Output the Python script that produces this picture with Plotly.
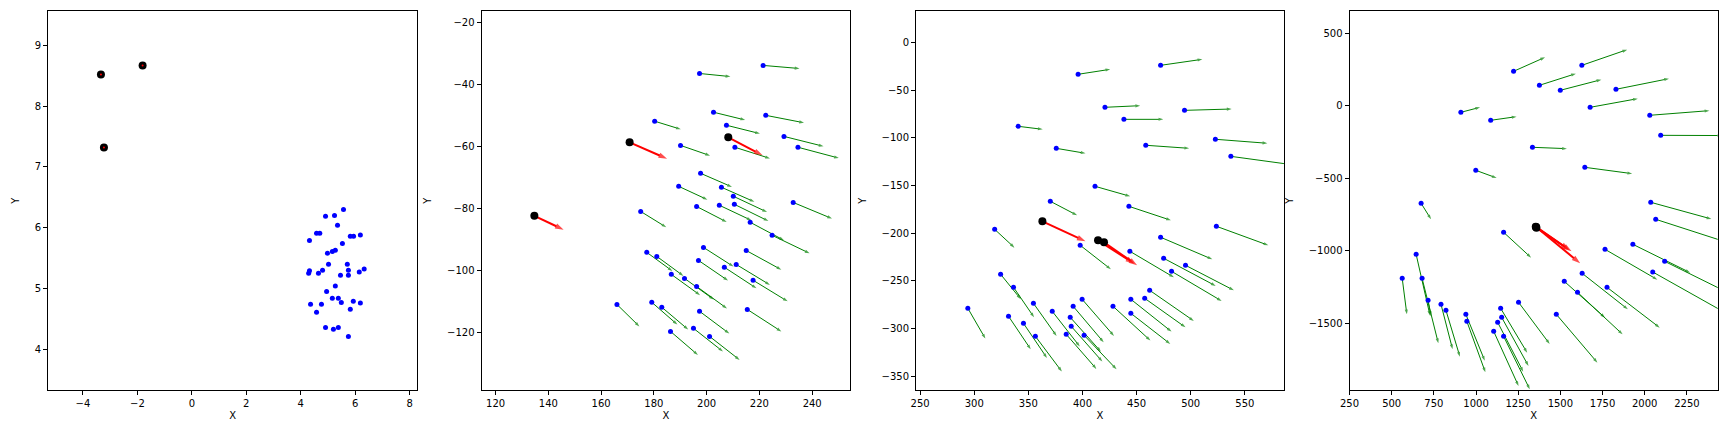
import plotly.graph_objects as go

# ---------- panel 1: initial points ----------
p1_blue_x = [5.57, 4.91, 5.24, 5.35, 4.58, 4.70, 4.32, 5.82, 5.94, 6.19,
             5.53, 4.98, 5.16, 5.27, 5.02, 5.71, 4.32, 4.29, 4.65, 4.80,
             5.46, 5.75, 5.75, 6.15, 6.33, 5.27, 4.95, 5.16, 5.38, 5.49,
             4.36, 4.76, 5.93, 6.19, 4.58, 5.82, 4.91, 5.20, 5.38, 5.75]
p1_blue_y = [6.30, 6.19, 6.20, 6.04, 5.91, 5.91, 5.79, 5.86, 5.86, 5.88,
             5.74, 5.58, 5.61, 5.63, 5.40, 5.40, 5.29, 5.25, 5.25, 5.30,
             5.22, 5.30, 5.22, 5.27, 5.32, 5.04, 4.95, 4.84, 4.84, 4.77,
             4.74, 4.74, 4.79, 4.76, 4.61, 4.66, 4.36, 4.33, 4.36, 4.21]
p1_black_x = [-3.34, -1.81, -3.23]
p1_black_y = [8.52, 8.67, 7.32]

# ---------- panel 2 ----------
p2_x0 = [197.3, 221.4, 202.6, 222.4, 180.3, 207.5, 229.3, 190.1, 210.7, 234.6,
         197.7, 189.4, 205.6, 210.1, 232.8, 175.0, 196.2, 204.8, 210.5, 216.5,
         224.8, 177.3, 181.1, 198.8, 215.0, 196.9, 206.7, 211.2, 186.6, 191.6,
         196.2, 217.6, 166.0, 179.2, 183.0, 197.3, 215.4, 186.3, 195.0, 201.1]
p2_y0 = [-36.5, -33.9, -49.0, -50.0, -51.9, -53.2, -56.8, -59.7, -60.3, -60.3,
         -68.7, -72.9, -73.2, -76.1, -78.1, -81.0, -79.4, -79.0, -78.7, -84.5,
         -88.7, -94.2, -95.5, -92.6, -93.6, -96.8, -99.0, -98.1, -101.3, -102.6,
         -105.2, -103.2, -111.0, -110.3, -111.9, -113.2, -112.6, -119.7, -118.7, -121.3]
p2_x1 = [209.0, 235.2, 214.6, 236.9, 190.2, 220.2, 244.3, 201.3, 224.0, 250.1,
         209.6, 200.3, 218.1, 222.9, 247.5, 184.7, 207.6, 217.0, 223.4, 229.3,
         239.0, 187.0, 191.2, 210.2, 228.3, 208.1, 218.9, 224.0, 197.5, 202.7,
         207.7, 230.7, 174.5, 188.9, 193.0, 208.6, 228.3, 196.7, 206.2, 212.5]
p2_y1 = [-37.5, -34.9, -51.5, -52.4, -54.5, -55.9, -60.0, -63.0, -63.9, -63.8,
         -73.1, -77.2, -77.9, -81.2, -83.3, -86.1, -84.4, -83.9, -84.1, -90.3,
         -94.5, -100.2, -101.8, -98.8, -99.8, -103.3, -105.8, -104.7, -108.0, -109.4,
         -112.3, -110.0, -118.1, -117.5, -119.1, -120.4, -119.7, -127.3, -126.2, -128.9]
p2_rx0 = [134.7, 170.8, 208.2]
p2_ry0 = [-82.4, -58.7, -57.1]
p2_rx1 = [145.8, 185.0, 221.2]
p2_ry1 = [-86.9, -64.0, -62.9]

# ---------- panel 3 ----------
p3_x0 = [396.0, 472.2, 420.8, 494.3, 438.3, 340.6, 522.8, 375.8, 458.5, 537.1,
         411.6, 370.3, 442.9, 318.9, 523.7, 472.2, 397.9, 443.8, 475.0, 495.2,
         482.3, 324.4, 336.3, 462.1, 444.7, 457.5, 294.1, 354.7, 372.1, 391.4,
         399.7, 428.2, 444.7, 331.7, 388.7, 389.6, 345.5, 356.5, 385.0, 401.5]
p3_y0 = [-33.5, -24.1, -68.1, -71.3, -80.7, -88.0, -101.6, -111.1, -107.9, -119.5,
         -150.9, -166.6, -171.9, -196.0, -192.8, -204.3, -212.7, -219.0, -226.3, -233.7,
         -240.0, -243.1, -256.7, -259.9, -269.3, -268.3, -278.7, -273.5, -281.9, -276.6,
         -269.3, -276.6, -284.0, -287.1, -288.2, -297.6, -294.5, -308.1, -306.0, -307.0]
p3_x1 = [425.7, 510.8, 453.3, 537.8, 474.7, 363.3, 570.8, 402.8, 498.6, 592.0,
         444.1, 395.1, 481.7, 337.2, 571.7, 520.0, 426.3, 484.5, 523.1, 539.9,
         528.6, 343.1, 355.3, 502.9, 482.3, 495.2, 310.3, 376.1, 397.6, 419.6,
         429.1, 462.8, 481.1, 352.2, 417.1, 418.4, 367.2, 381.0, 412.9, 431.5]
p3_y1 = [-28.3, -17.8, -66.4, -69.9, -80.7, -91.2, -105.8, -116.3, -111.1, -128.0,
         -161.4, -181.3, -186.5, -215.2, -212.7, -227.4, -237.9, -246.3, -255.3, -259.9,
         -271.1, -269.3, -288.2, -292.0, -303.2, -298.7, -310.5, -307.7, -318.9, -314.4,
         -307.7, -312.6, -316.1, -321.7, -324.2, -334.6, -330.8, -345.1, -342.3, -342.7]
p3_rx0 = [363.0, 414.4, 419.9]
p3_ry0 = [-187.6, -207.5, -209.6]
p3_rx1 = [402.8, 447.8, 450.5]
p3_ry1 = [-208.5, -231.9, -233.7]

# ---------- panel 4 ----------
p4_x0 = [1222.5, 1627.2, 1375.7, 1499.5, 1829.5, 910.1, 1086.9, 1676.3, 2029.9, 2094.8,
         1334.5, 998.5, 1644.9, 2035.8, 2065.3, 674.4, 1163.5, 1764.7, 1929.7, 2118.3,
         2047.6, 1629.1, 1523.1, 1601.6, 1776.5, 1475.9, 562.4, 644.9, 680.2, 715.6,
         792.2, 821.7, 939.6, 945.5, 1145.9, 1252.0, 1151.8, 1128.2, 1104.6, 1163.5]
p4_y0 = [237.9, 279.3, 141.4, 106.9, 113.8, -44.8, -100.0, -10.4, -65.5, -203.5,
         -286.2, -444.8, -424.2, -665.5, -782.8, -672.4, -872.4, -989.7, -955.2, -1072.5,
         -1146.0, -1155.2, -1210.4, -1286.2, -1251.8, -1438.0, -1189.7, -1024.2, -1189.7, -1341.4,
         -1369.0, -1410.4, -1438.0, -1486.3, -1396.6, -1355.2, -1458.7, -1493.1, -1555.2, -1589.7]
p4_x1 = [1409.1, 1896.3, 1591.8, 1743.1, 2143.9, 1024.1, 1240.2, 1959.2, 2383.6, 2460.0,
         1538.8, 1122.3, 1925.8, 2395.3, 2470.0, 733.3, 1326.6, 2075.1, 2269.6, 2485.7,
         2466.1, 1900.3, 1764.7, 1868.8, 2088.9, 1719.5, 589.9, 727.4, 776.5, 733.3,
         861.0, 904.2, 1051.6, 1055.5, 1303.0, 1436.7, 1310.9, 1279.6, 1252.0, 1318.7]
p4_y1 = [334.5, 387.4, 221.8, 180.5, 187.3, -10.4, -74.7, 49.4, -33.3, -205.0,
         -295.4, -497.7, -467.8, -780.5, -935.0, -782.8, -1047.2, -1198.9, -1150.6, -1284.0,
         -1419.6, -1403.5, -1461.0, -1575.9, -1529.9, -1771.3, -1438.0, -1447.2, -1638.0, -1451.8,
         -1679.4, -1730.0, -1757.5, -1838.1, -1702.4, -1642.6, -1794.4, -1833.5, -1932.2, -1955.2]
p4_rx0 = [1354.1, 1358.0, 1356.1]
p4_ry0 = [-833.4, -840.3, -835.7]
p4_rx1 = [1552.6, 1566.3, 1617.4]
p4_ry1 = [-994.3, -1003.5, -1086.2]

FONT = dict(family="DejaVu Sans", size=10, color="black")


def arrows(x0, y0, x1, y1, color, width, head, xa, ya):
    xs, ys, sizes = [], [], []
    for a, b, c, d in zip(x0, y0, x1, y1):
        xs += [a, c, None]
        ys += [b, d, None]
        sizes += [0, head, 0]
    return go.Scatter(
        x=xs, y=ys, mode="lines+markers", xaxis=xa, yaxis=ya,
        line=dict(color=color, width=width),
        marker=dict(symbol="arrow", size=sizes, angleref="previous",
                    color=color, line=dict(width=0)),
        hoverinfo="skip", showlegend=False,
    )


def dots(x, y, color, size, xa, ya):
    return go.Scatter(x=x, y=y, mode="markers", xaxis=xa, yaxis=ya,
                      marker=dict(color=color, size=size, line=dict(width=0)),
                      hoverinfo="skip", showlegend=False)


fig = go.Figure()

# panel 1
fig.add_trace(dots(p1_blue_x, p1_blue_y, "blue", 5, "x", "y"))
fig.add_trace(dots(p1_black_x, p1_black_y, "black", 8, "x", "y"))
fig.add_trace(dots(p1_black_x, p1_black_y, "red", 2, "x", "y"))

# panels 2-4
panels = [
    (p2_x0, p2_y0, p2_x1, p2_y1, p2_rx0, p2_ry0, p2_rx1, p2_ry1, "x2", "y2"),
    (p3_x0, p3_y0, p3_x1, p3_y1, p3_rx0, p3_ry0, p3_rx1, p3_ry1, "x3", "y3"),
    (p4_x0, p4_y0, p4_x1, p4_y1, p4_rx0, p4_ry0, p4_rx1, p4_ry1, "x4", "y4"),
]
for gx0, gy0, gx1, gy1, rx0, ry0, rx1, ry1, xa, ya in panels:
    fig.add_trace(arrows(gx0, gy0, gx1, gy1, "green", 1, 5, xa, ya))
    fig.add_trace(dots(gx0, gy0, "blue", 5, xa, ya))
    fig.add_trace(arrows(rx0, ry0, rx1, ry1, "red", 2, 9, xa, ya))
    fig.add_trace(dots(rx0, ry0, "black", 8, xa, ya))


def axis(domain, rng, ticks, title, standoff, anchor):
    return dict(
        domain=domain, range=rng, tickvals=ticks, anchor=anchor,
        showline=True, linecolor="black", linewidth=1, mirror=True,
        ticks="outside", ticklen=4, tickwidth=1, tickcolor="black",
        showgrid=False, zeroline=False, tickfont=FONT,
        title=dict(text=title, font=FONT, standoff=standoff),
    )


xdom = [[0.0222, 0.2369], [0.2745, 0.4892], [0.5274, 0.7415], [0.7797, 0.9940]]
ydom = [0.0972, 0.9738]

fig.update_layout(
    width=1728, height=432,
    margin=dict(l=0, r=0, t=0, b=0),
    paper_bgcolor="white", plot_bgcolor="white",
    xaxis=axis(xdom[0], [-5.28, 8.27], [-4, -2, 0, 2, 4, 6, 8], "X", 3, "y"),
    yaxis=axis(ydom, [3.33, 9.56], [4, 5, 6, 7, 8, 9], "Y", 13, "x"),
    xaxis2=axis(xdom[1], [114.7, 254.5], [120, 140, 160, 180, 200, 220, 240], "X", 3, "y2"),
    yaxis2=axis(ydom, [-138.6, -16.45], [-120, -100, -80, -60, -40, -20], "Y", 13, "x2"),
    xaxis3=axis(xdom[2], [246.3, 586.1], [250, 300, 350, 400, 450, 500, 550], "X", 3, "y3"),
    yaxis3=axis(ydom, [-364.4, 32.5], [-350, -300, -250, -200, -150, -100, -50, 0], "Y", 13, "x3"),
    xaxis4=axis(xdom[3], [250, 2432.7], [250, 500, 750, 1000, 1250, 1500, 1750, 2000, 2250], "X", 3, "y4"),
    yaxis4=axis(ydom, [-1960, 651.7], [-1500, -1000, -500, 0, 500], "Y", 13, "x4"),
)

fig.write_html("out.html", config={"displayModeBar": False},
               post_script="document.body.style.margin='0';")
